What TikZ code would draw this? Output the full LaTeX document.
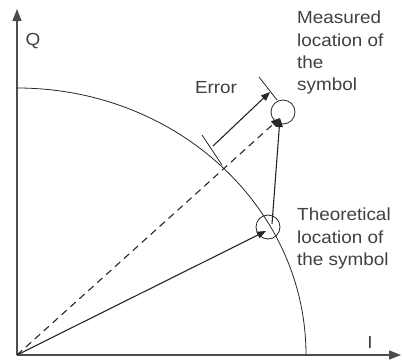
\documentclass[tikz,border=0pt]{standalone}
\usepackage{fontspec}
\setmainfont{Liberation Sans}
\usetikzlibrary{arrows.meta, positioning, calc}

\tikzset{
    vec/.style={line width=1.1pt, draw=black!85, -{Triangle[length=9pt, width=7pt]}},
    axis/.style={line width=1.3pt, draw=black!70, -{Triangle[length=12pt, width=9pt]}},
    symring/.style={draw=black!85, circle, line width=0.8pt, minimum size=24pt, inner sep=0pt},
    tickline/.style={line width=0.8pt, draw=black!85},
    lbl/.style={font=\fontsize{17.5pt}{22.3pt}\selectfont, text=black!75, align=left, inner sep=0pt,
                xscale=1.08, transform shape}
}

\begin{document}
\begin{tikzpicture}[x=1pt, y=1pt]
    \useasboundingbox (0,0) rectangle (402,360);

    % axes
    \coordinate (O) at (17,5);
    \coordinate (Qtip) at (17,351);
    \coordinate (Itip) at (401,5);
    \draw[axis] (O) -- (Qtip);
    \draw[axis] (O) -- (Itip);
    \node[lbl] (Q) at (33,319) {Q};
    \node[lbl] (I) at (370,18) {I};

    % unit circle
    \draw[line width=0.8pt, black!85] (17,272) arc[start angle=90, end angle=0, x radius=289, y radius=267];

    % symbol locations
    \node[symring] (theo) at (268,133) {};
    \node[symring] (meas) at (283,248) {};
    \coordinate (ttip) at (266,129);
    \coordinate (mtip) at (280,242);
    \coordinate (tstart) at (272,136);

    \draw[vec] (O) -- (ttip);
    \draw[vec] (tstart) -- (mtip);
    \draw[vec, dashed, dash pattern=on 7pt off 5pt] (O) -- (mtip);

    % error
    \coordinate (e1) at (213,214);
    \coordinate (e2) at (270,268);
    \draw[tickline] (202,225) -- (222,195);
    \draw[tickline] (259,283) -- (277,260);
    \draw[vec] (e1) -- (e2);
    \node[lbl] (err) at (216,272) {Error};

    % labels
    \node[lbl, anchor=north west] (mlbl) at (297,349) {Measured\\location of\\the\\symbol};
    \node[lbl, anchor=north west] (tlbl) at (297,152) {Theoretical\\location of\\the symbol};
\end{tikzpicture}
\end{document}
